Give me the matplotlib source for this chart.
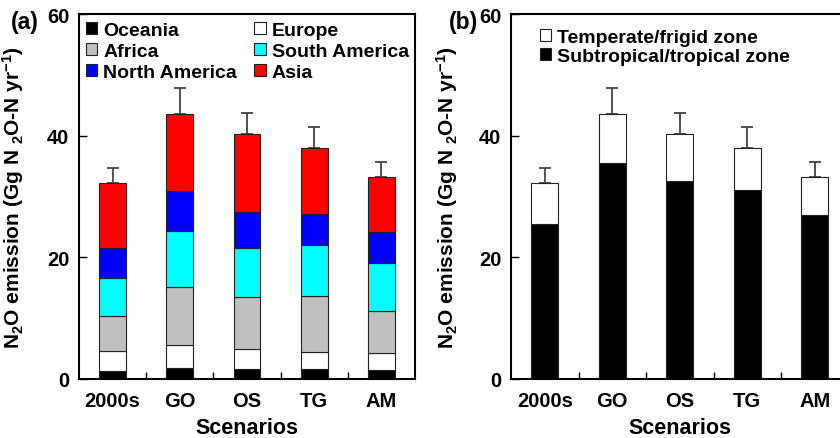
import matplotlib
matplotlib.use('Agg')
import matplotlib.pyplot as plt
import numpy as np

plt.rcParams['font.family'] = ['Liberation Sans', 'DejaVu Sans']
plt.rcParams['font.weight'] = 'bold'
plt.rcParams['mathtext.fontset'] = 'custom'
plt.rcParams['mathtext.rm'] = 'Liberation Sans:bold'
plt.rcParams['mathtext.it'] = 'Liberation Sans:bold'
plt.rcParams['mathtext.bf'] = 'Liberation Sans:bold'
plt.rcParams['mathtext.default'] = 'rm'

scenarios = ['2000s', 'GO', 'OS', 'TG', 'AM']

# regional contributions, stacked bottom to top
oceania = [1.3, 1.8, 1.65, 1.7, 1.5]
europe = [3.25, 3.8, 3.35, 2.8, 2.7]
africa = [5.75, 9.6, 8.5, 9.15, 6.9]
southAmerica = [6.25, 9.2, 8.0, 8.35, 7.9]
northAmerica = [4.95, 6.5, 6.0, 5.1, 5.1]
asia = [10.7, 12.6, 12.8, 10.9, 9.1]
errUpper = [2.45, 4.3, 3.5, 3.4, 2.4]

# climate zones
tropical = [25.5, 35.5, 32.6, 31.1, 26.9]
temperate = [6.7, 8.0, 7.7, 6.9, 6.3]

yLabel = r'N$_{2}$O emission (Gg N $_{2}$O-N yr$^{-1}$)'

fig = plt.figure(figsize=(8.4, 4.39), dpi=100)
axA = fig.add_axes([79 / 840, 59 / 439, 336 / 840, 365 / 439])
axB = fig.add_axes([511 / 840, 59 / 439, 337.5 / 840, 365 / 439])

x = np.arange(len(scenarios))
width = 0.4
edge = '#222222'


def style_axes(ax):
    ax.set_xlim(-0.5, 4.5)
    ax.set_ylim(0, 60)
    ax.set_yticks([0, 20, 40, 60])
    ax.set_xticks(x)
    ax.set_xticklabels(scenarios)
    ax.set_xticks(x[:-1] + 0.5, minor=True)
    ax.tick_params(axis='x', which='major', length=0, pad=9, labelsize=14.5)
    ax.tick_params(axis='x', which='minor', direction='in', length=5, width=1)
    ax.tick_params(axis='y', which='major', direction='in', length=6, width=1, pad=7, labelsize=14.5)
    for s in ax.spines.values():
        s.set_linewidth(1.5)
    ax.set_xlabel('Scenarios', fontsize=15.5, fontweight='bold')
    ax.xaxis.set_label_coords(0.5, -0.103)
    ax.set_ylabel(yLabel, fontsize=15, fontweight='bold')


# panel (a)
series = [oceania, europe, africa, southAmerica, northAmerica, asia]
names = ['Oceania', 'Europe', 'Africa', 'South America', 'North America', 'Asia']
colors = ['black', 'white', '#c0c0c0', '#00ffff', '#0000ff', '#ff0000']
bottom = np.zeros(len(scenarios))
bars = {}
for vals, name, col in zip(series, names, colors):
    bars[name] = axA.bar(x, vals, width, bottom=bottom, color=col, edgecolor=edge,
                         linewidth=0.8, label=name, zorder=2)
    bottom = bottom + np.array(vals)
totalA = bottom
axA.errorbar(x, totalA, yerr=[np.zeros(len(x)), errUpper], fmt='none', ecolor='#444444',
             elinewidth=1.3, capsize=4, capthick=1.3, zorder=1)
style_axes(axA)
axA.yaxis.set_label_coords(-0.158, 0.5)
legOrder = ['Oceania', 'Africa', 'North America', 'Europe', 'South America', 'Asia']
axA.legend([bars[n] for n in legOrder], legOrder, ncol=2, loc='upper left',
           bbox_to_anchor=(0.02, 0.978), frameon=False, fontsize=14, borderpad=0,
           borderaxespad=0, handlelength=0.6, handleheight=0.6, handletextpad=0.3,
           labelspacing=0.2, columnspacing=0.9)

# panel (b)
bTrop = axB.bar(x, tropical, width, color='black', edgecolor=edge, linewidth=0.8, zorder=2)
bTemp = axB.bar(x, temperate, width, bottom=tropical, color='white', edgecolor=edge,
                linewidth=0.8, zorder=2)
totalB = np.array(tropical) + np.array(temperate)
axB.errorbar(x, totalB, yerr=[np.zeros(len(x)), errUpper], fmt='none', ecolor='#444444',
             elinewidth=1.3, capsize=4, capthick=1.3, zorder=1)
style_axes(axB)
axB.yaxis.set_label_coords(-0.151, 0.5)
axB.legend([bTemp, bTrop], ['Temperate/frigid zone', 'Subtropical/tropical zone'],
           loc='upper left', bbox_to_anchor=(0.085, 0.96), frameon=False, fontsize=14,
           borderpad=0, borderaxespad=0, handlelength=0.6, handleheight=0.6,
           handletextpad=0.3, labelspacing=0.1)

fig.text(11 / 840, 1 - 22 / 439, '(a)', fontsize=16.5, fontweight='bold', va='center')
fig.text(449 / 840, 1 - 22 / 439, '(b)', fontsize=16.5, fontweight='bold', va='center')

fig.savefig('out.png', dpi=100)
